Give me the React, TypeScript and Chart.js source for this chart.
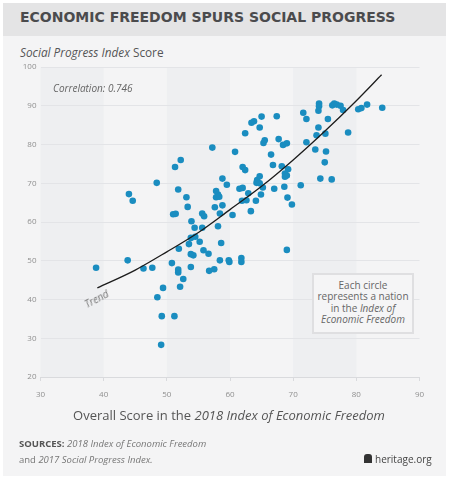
import React, { useEffect, useRef } from "react";
import { Chart, registerables } from "chart.js";

Chart.register(...registerables);

const econScore: number[] = [
  57.2, 60.8, 52.2, 51.3, 48.4, 44.0, 44.6, 51.8, 53.1, 58.8,
  59.5, 57.8, 58.1, 57.8, 58.3, 58.8, 57.6, 53.3, 51.0, 51.4,
  55.6, 55.9, 58.4, 60.4, 53.9, 54.4, 55.6, 58.1, 53.8, 54.5,
  38.8, 43.8, 46.3, 47.7, 50.8, 51.8, 51.8, 52.6, 52.1, 49.4,
  48.5, 49.2, 51.2, 49.1, 51.9, 53.5, 53.8, 54.2, 53.8, 55.2,
  55.8, 56.6, 58.6, 58.4, 56.7, 57.5, 59.8, 59.9, 61.5, 62.0,
  62.9, 62.6, 61.9, 64.3, 64.2, 64.7, 65.2, 64.9, 64.1, 63.3,
  67.0, 68.6, 69.1, 69.8, 71.2, 61.8, 61.8, 69.0, 74.1, 74.1,
  76.2, 76.5, 76.9, 77.5, 77.9, 80.3, 80.8, 81.7, 84.1, 74.0,
  71.6, 72.1, 75.5, 74.0, 78.7, 73.7, 75.1, 72.1, 73.5, 75.2,
  75.0, 74.3, 76.1, 67.4, 65.0, 64.7, 63.8, 63.4, 62.4, 65.5,
  65.3, 67.7, 68.4, 69.0, 66.5, 66.8, 68.2, 62.0, 62.4, 69.2,
  68.7, 69.0, 68.7, 64.7,
];

const spiScore: number[] = [
  79.2, 78.1, 76.0, 74.2, 70.1, 67.2, 65.5, 68.4, 66.4, 71.2,
  69.6, 68.0, 67.1, 66.4, 66.5, 64.3, 63.8, 63.9, 62.0, 62.1,
  62.2, 61.5, 62.2, 61.8, 60.2, 58.5, 58.5, 58.9, 55.9, 56.2,
  48.2, 50.1, 48.0, 48.2, 49.4, 47.7, 47.0, 45.3, 43.3, 43.0,
  40.6, 35.7, 35.7, 28.3, 53.1, 54.3, 51.7, 51.4, 48.4, 54.9,
  52.7, 51.8, 54.6, 50.1, 47.4, 47.8, 50.1, 49.7, 68.6, 68.8,
  67.4, 65.6, 65.5, 70.8, 70.1, 70.0, 68.9, 67.1, 65.5, 62.8,
  68.6, 69.1, 66.3, 64.5, 69.5, 50.7, 49.7, 52.8, 90.6, 89.9,
  90.1, 90.6, 90.3, 90.0, 88.9, 89.1, 89.4, 90.3, 89.5, 88.7,
  88.2, 86.6, 86.6, 84.4, 83.1, 82.4, 82.8, 80.6, 78.7, 78.2,
  75.4, 71.2, 71.0, 87.3, 87.2, 84.4, 86.0, 85.6, 82.9, 81.1,
  80.4, 81.4, 79.9, 80.3, 77.4, 74.7, 74.4, 74.2, 73.4, 73.6,
  72.5, 72.0, 71.7, 71.8,
];

const trendX: number[] = [39, 45, 50, 55, 60, 65, 70, 75, 80, 84];
const trendY: number[] = [43.0, 47.6, 52.3, 57.3, 63.2, 69.2, 76.0, 83.4, 91.3, 98.0];

const xTicks: number[] = [30, 40, 50, 60, 70, 80, 90];
const yTicks: number[] = [20, 30, 40, 50, 60, 70, 80, 90, 100];
const shadedBands: [number, number][] = [
  [30, 40],
  [50, 60],
  [70, 80],
];

const FONT = "'Open Sans', 'DejaVu Sans', sans-serif";

const bandPlugin = {
  id: "bands",
  beforeDraw(chart: any) {
    const { ctx, chartArea, scales } = chart;
    if (!chartArea) return;
    ctx.save();
    ctx.fillStyle = "#eeeff1";
    for (const [a, b] of shadedBands) {
      const x1 = scales.x.getPixelForValue(a);
      const x2 = scales.x.getPixelForValue(b);
      ctx.fillRect(x1, chartArea.top, x2 - x1, chartArea.bottom - chartArea.top);
    }
    ctx.restore();
  },
};

export default function App() {
  const ref = useRef<HTMLCanvasElement | null>(null);

  useEffect(() => {
    if (!ref.current) return;
    const chart = new Chart(ref.current, {
      type: "scatter",
      data: {
        datasets: [
          {
            type: "line",
            data: trendX.map((x, i) => ({ x, y: trendY[i] })),
            borderColor: "#1c1c1c",
            borderWidth: 1.3,
            pointRadius: 0,
            fill: false,
            cubicInterpolationMode: "monotone",
            order: 0,
          } as any,
          {
            data: econScore.map((x, i) => ({ x, y: spiScore[i] })),
            backgroundColor: "#1a8dc0",
            borderWidth: 0,
            pointRadius: 3.3,
            order: 1,
          },
        ],
      },
      options: {
        responsive: false,
        animation: false,
        layout: { padding: { left: 10.5, right: 32.5, top: 67, bottom: 77 } },
        plugins: {
          legend: { display: false },
          tooltip: { enabled: false },
        },
        scales: {
          x: {
            type: "linear",
            min: 30,
            max: 90,
            afterBuildTicks: (s: any) => {
              s.ticks = xTicks.map((v) => ({ value: v }));
            },
            afterFit: (s: any) => {
              s.height = 24;
            },
            ticks: {
              color: "#8f8f8f",
              font: { family: FONT, size: 8 },
              padding: 9,
            },
            grid: {
              drawOnChartArea: false,
              drawTicks: true,
              tickLength: 4,
              color: "#d9dadd",
            },
            border: { color: "#d9dadd", width: 1 },
          },
          y: {
            type: "linear",
            min: 20,
            max: 100,
            afterBuildTicks: (s: any) => {
              s.ticks = yTicks.map((v) => ({ value: v }));
            },
            afterFit: (s: any) => {
              s.width = 30;
            },
            ticks: {
              color: "#8f8f8f",
              font: { family: FONT, size: 8 },
              padding: 4,
            },
            grid: { color: "#e3e4e7", drawTicks: false, lineWidth: 1 },
            border: { display: false },
          },
        },
      },
      plugins: [bandPlugin],
    });
    return () => chart.destroy();
  }, []);

  const abs = (s: React.CSSProperties): React.CSSProperties => ({ position: "absolute", ...s });

  return (
    <div style={abs({ left: 0, top: 0, width: 452, height: 478, background: "#ffffff", fontFamily: FONT, overflow: "hidden" })}>
      <div style={abs({ left: 3, top: 3, width: 443, height: 473, background: "#f4f4f5" })} />
      <div style={abs({ left: 3, top: 3, width: 443, height: 33, background: "#e4e4e5" })} />
      <div
        style={abs({
          left: 20,
          top: 7,
          fontFamily: "'DejaVu Sans', sans-serif",
          fontWeight: 700,
          fontSize: 14,
          color: "#4b4b4d",
          whiteSpace: "nowrap",
          lineHeight: "20px",
        })}
      >
        ECONOMIC FREEDOM SPURS SOCIAL PROGRESS
      </div>
      <div style={abs({ left: 20, top: 43, fontSize: 11.8, color: "#555", whiteSpace: "nowrap", lineHeight: "18px" })}>
        <i>Social Progress Index</i> Score
      </div>
      <canvas ref={ref} width={452} height={478} style={abs({ left: 0, top: 0, width: 452, height: 478 })} />
      <div style={abs({ left: 53, top: 81, fontSize: 10, fontStyle: "italic", color: "#666", whiteSpace: "nowrap", lineHeight: "14px" })}>
        Correlation: 0.746
      </div>
      <div
        style={abs({
          left: 88,
          top: 298,
          fontSize: 10,
          fontStyle: "italic",
          color: "#777",
          whiteSpace: "nowrap",
          lineHeight: "12px",
          transform: "rotate(-28deg)",
          transformOrigin: "left bottom",
        })}
      >
        Trend
      </div>
      <div
        style={abs({
          left: 312,
          top: 273,
          width: 98,
          height: 52,
          border: "2px solid #dfdfe1",
          background: "#f5f5f6",
          fontSize: 10,
          lineHeight: "11.3px",
          color: "#666",
          textAlign: "center",
          paddingTop: 5,
          boxSizing: "content-box",
        })}
      >
        Each circle
        <br />
        represents a nation
        <br />
        in the <i>Index of</i>
        <br />
        <i>Economic Freedom</i>
      </div>
      <div style={abs({ left: 0, width: 458, top: 406, fontSize: 13, color: "#555", textAlign: "center", whiteSpace: "nowrap", lineHeight: "18px" })}>
        Overall Score in the <i>2018 Index of Economic Freedom</i>
      </div>
      <div style={abs({ left: 19, top: 436, fontSize: 9.5, color: "#777", lineHeight: "16px", whiteSpace: "nowrap" })}>
        <b style={{ color: "#555" }}>SOURCES:</b> <i>2018 Index of Economic Freedom</i>
        <br />
        and <i>2017 Social Progress Index.</i>
      </div>
      <div style={abs({ left: 364, top: 454, width: 8, height: 9, background: "#333", borderRadius: "3px 3px 0 0" })} />
      <div style={abs({ left: 375, top: 451, fontSize: 10, color: "#444", lineHeight: "16px", whiteSpace: "nowrap" })}>
        heritage.org
      </div>
    </div>
  );
}
